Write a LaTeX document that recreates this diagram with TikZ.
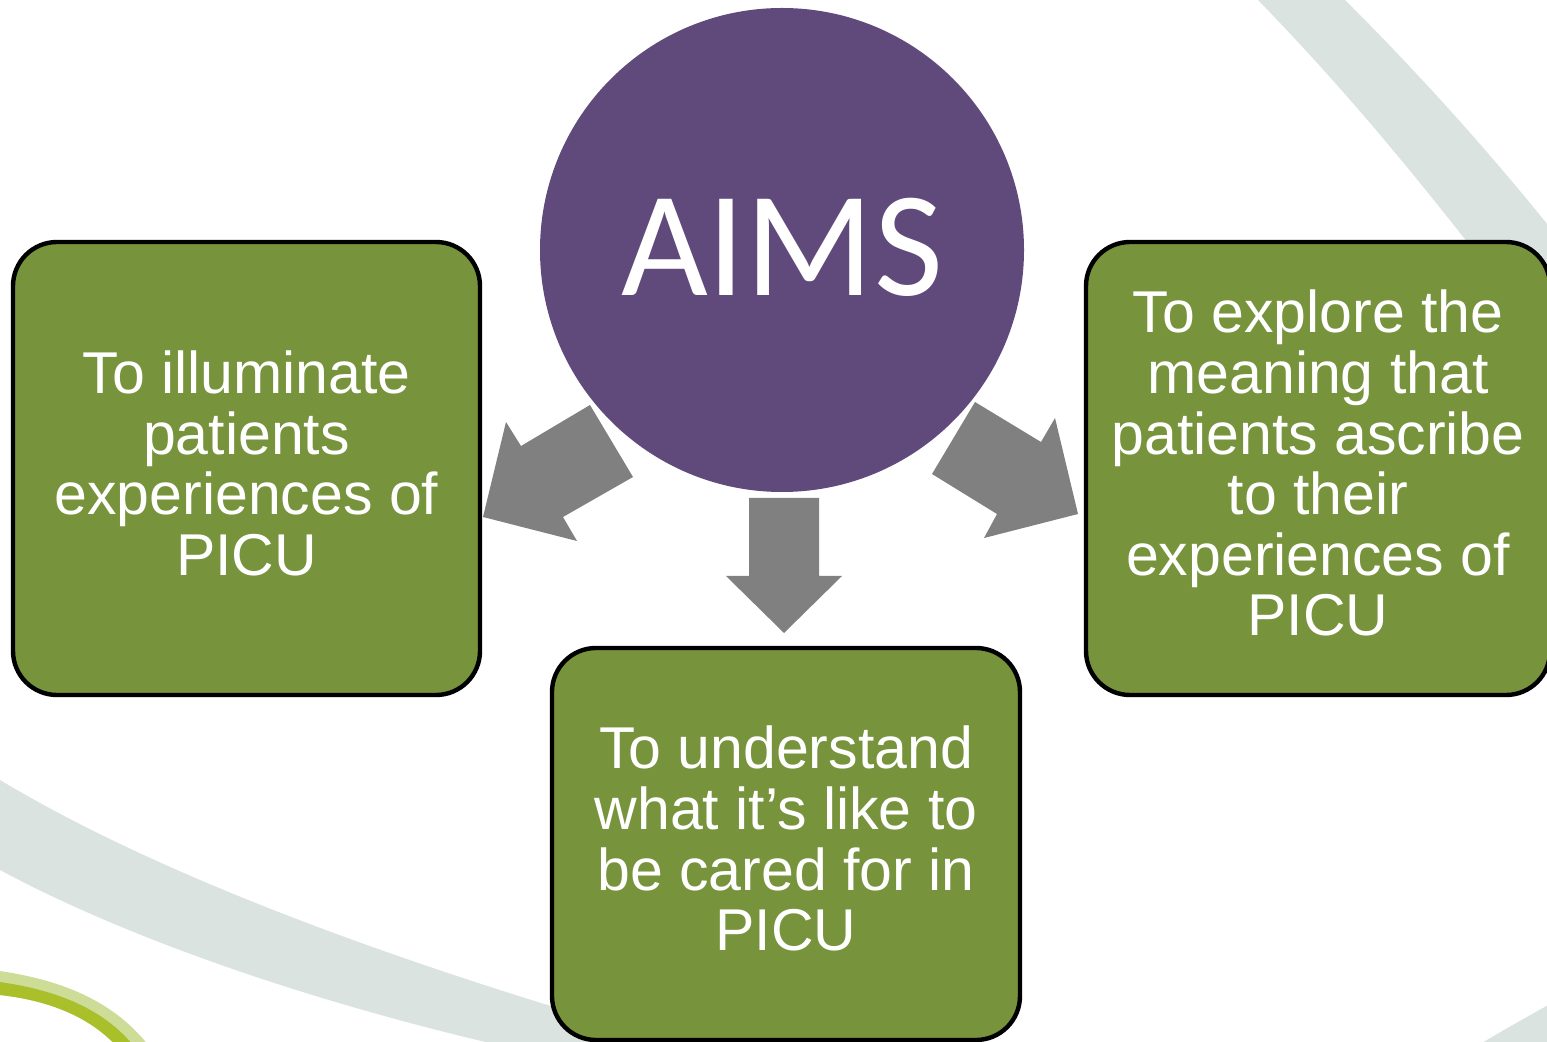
\documentclass[tikz,border=0pt]{standalone}
\usepackage{fontspec}
\usepackage{tikz}
\setmainfont{Liberation Sans}
\newfontfamily\aimsfont{Carlito}
\definecolor{aimgreen}{HTML}{77933C}
\definecolor{hubpurple}{HTML}{604A7B}
\definecolor{arrowgrey}{HTML}{808080}
\definecolor{bandgrey}{HTML}{DAE3DF}
\definecolor{limegreen}{HTML}{A9C02B}
\definecolor{limelight}{HTML}{CDDC96}
\begin{document}
\begin{tikzpicture}[
    x=0.5pt, y=-0.5pt,
    band/.style={fill=bandgrey},
    hub/.style={circle,fill=hubpurple,minimum size=242pt,inner sep=0pt,text=white,font=\aimsfont\fontsize{75}{75}\selectfont},
    aim/.style={rectangle,draw=black,line width=2.2pt,fill=aimgreen,rounded corners=22pt,
        text=white,align=center,text depth=5.5pt,font=\fontsize{29.5}{30.3}\selectfont},
    arrowblock/.style={fill=arrowgrey},
]
\useasboundingbox (0,0) rectangle (1547,1042);
\begin{scope}
\clip (0,0) rectangle (1547,1042);
% background swooshes
\fill[band] (1258,0) .. controls (1350,95) and (1420,180) .. (1520,310) -- (1560,310)
    -- (1560,240) .. controls (1480,140) and (1410,65) .. (1345,0) -- cycle;
\fill[band] (0,780) .. controls (150,870) and (380,960) .. (700,1050) -- (520,1050)
    .. controls (320,1005) and (130,940) .. (0,870) -- cycle;
\fill[band] (1470,1050) .. controls (1500,1032) and (1525,1018) .. (1550,1004) -- (1550,1050) -- cycle;
\fill[limelight] (0,971) .. controls (60,980) and (115,1000) .. (152,1050) -- (120,1050)
    .. controls (90,1015) and (45,1000) .. (0,995) -- cycle;
\fill[limegreen] (0,982) .. controls (55,990) and (105,1008) .. (137,1050) -- (120,1050)
    .. controls (90,1015) and (45,1000) .. (0,995) -- cycle;
\end{scope}

\node[hub] (aims) at (782,250) {\raisebox{3.5pt}{AIMS}};

\node[aim,minimum width=233.5pt,minimum height=226.5pt] (illuminate) at (246.5,468.5)
    {To illuminate\\patients\\experiences of\\PICU};
\node[aim,minimum width=234pt,minimum height=196pt] (understand) at (786,844)
    {To understand\\what it’s like to\\be cared for in\\PICU};
\node[aim,minimum width=232pt,minimum height=226.5pt] (explore) at (1318,468.5)
    {To explore the\\meaning that\\patients ascribe\\to their\\experiences of\\PICU};

% block arrows from the hub
\fill[arrowblock] (590,405) -- (521,446) -- (506,422) -- (483,517) -- (577,541) -- (563,517) -- (633,477) -- cycle;
\fill[arrowblock] (749,498) -- (819,498) -- (819,576) -- (842,576) -- (784,633) -- (726,576) -- (749,576) -- cycle;
\fill[arrowblock] (975,402) -- (1041,442) -- (1055,418) -- (1078,514) -- (984,538) -- (997,514) -- (932,474) -- cycle;
\end{tikzpicture}
\end{document}
